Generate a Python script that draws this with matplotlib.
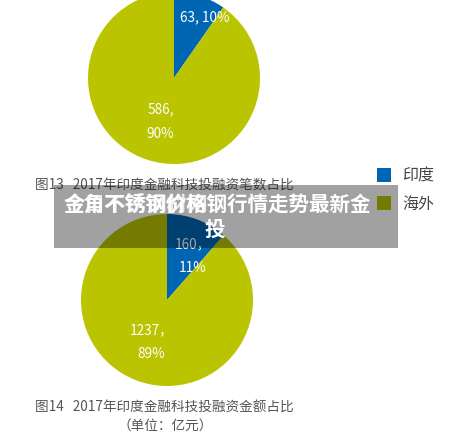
import matplotlib
matplotlib.use("Agg")
import matplotlib.pyplot as plt
from matplotlib.patches import Rectangle
import numpy as np

plt.rcParams['font.family'] = ['Noto Sans CJK SC', 'DejaVu Sans']

# data
categories = ['印度', '海外']
deal_counts = [63, 586]
deal_amounts = [160, 1237]
colors = ['#0066b3', '#bac400']

caption13 = '图13   2017年印度金融科技投融资笔数占比'
caption14 = '图14   2017年印度金融科技投融资金额占比'
unit_note = '（单位：亿元）'
banner_a = '金角不锈钢价格钢行情走势最新金'
banner_b = '今日不锈钢材网'
banner_c = '投'

W, H = 454, 435


# pixel coords (y measured from top) -> data coords
def py(y):
    return H - y


# place = (distance as part of radius, extra turn in degrees) per slice
def draw_pie(ax, values, cx, cy, r, place, fmt):
    wedges, _ = ax.pie(values, colors=colors, startangle=90, counterclock=False,
                       center=(cx, py(cy)), radius=r,
                       wedgeprops=dict(linewidth=0))
    total = sum(values)
    for w, v, (d, turn), f in zip(wedges, values, place, fmt):
        th = np.deg2rad((w.theta1 + w.theta2) / 2 + turn)
        x = cx + d * r * np.cos(th)
        y = py(cy) + d * r * np.sin(th)
        ax.text(x, y, f.format(v, round(100 * v / total)), color='white',
                fontsize=9.8, ha='center', va='center', linespacing=1.9)
    return wedges


fig = plt.figure(figsize=(W / 100, H / 100), dpi=100)
ax = fig.add_axes([0, 0, 1, 1])

draw_pie(ax, deal_counts, 174, 79, 86, [(0.80, -9), (0.52, 0)],
         ['{}, {}%', '{},\n{}%'])
draw_pie(ax, deal_amounts, 167, 301, 86, [(0.60, -9), (0.51, 0)],
         ['{}，\n{}%', '{}，\n{}%'])

ax.set_xlim(0, W)
ax.set_ylim(0, H)
ax.set_aspect('equal')
ax.axis('off')

# captions
ax.text(35, py(185), caption13, fontsize=9.8, color='#555555', va='center')
ax.text(35, py(408), caption14, fontsize=9.8, color='#555555', va='center')
ax.text(165, py(426), unit_note, fontsize=9.8, color='#555555', va='center', ha='center')

# legend
for i, (lab, c) in enumerate(zip(categories, colors)):
    y0 = 176 + i * 28
    ax.add_patch(Rectangle((377, py(y0 + 7)), 14, 14, color=c, lw=0))
    ax.text(402, py(y0), lab, fontsize=11.5, color='#444444', va='center')

# grey banner over everything
ax.add_patch(Rectangle((54, py(249)), 344, 63, color='black', alpha=0.37, lw=0, zorder=5))
ax.text(64, py(205), banner_a, fontsize=14.8, color='white', weight='bold',
        va='center', zorder=6)
ax.text(64, py(205), banner_b, fontsize=14.8, color='white', weight='bold',
        va='center', zorder=6, alpha=0.8)
ax.text(215, py(229), banner_c, fontsize=14.8, color='white', weight='bold',
        va='center', ha='center', zorder=6)

fig.savefig('out.png', dpi=100, facecolor='white')
